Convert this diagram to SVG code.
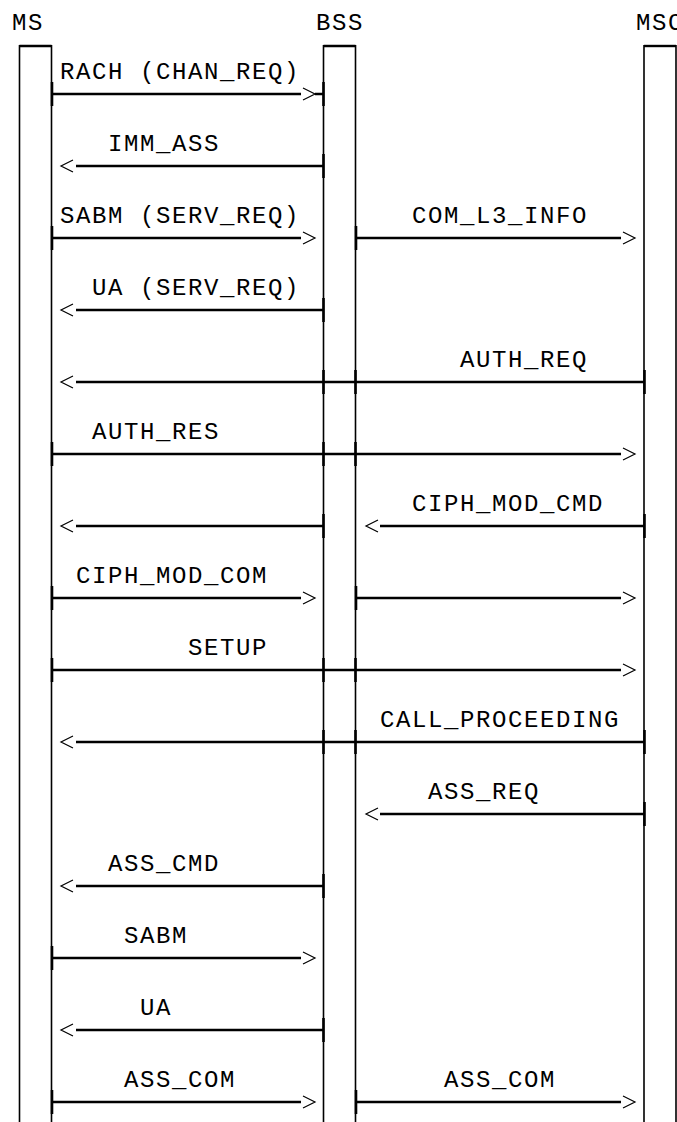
<svg xmlns="http://www.w3.org/2000/svg" xmlns:xlink="http://www.w3.org/1999/xlink" width="677" height="1122" viewBox="0 0 677 1122">
<style>
text{font-family:"Liberation Mono","DejaVu Sans Mono",monospace;font-size:24px;letter-spacing:1.6px;fill:#000}
.life{stroke:#000;stroke-width:1.6;fill:none}
.top{stroke:#000;stroke-width:2.4;fill:none}
.msg{stroke:#000;stroke-width:2.4;fill:none}
.head{stroke:#000;stroke-width:1.2;fill:none}
.tick{stroke:#000;stroke-width:2.6;fill:none}
</style>
<defs>
<path id="ar" class="head" d="M0,-6 L12,0 L0,6"/>
<path id="al" class="head" d="M12,-6 L0,0 L12,6"/>
<path id="tk" class="tick" d="M0,-12 V12"/>
</defs>
<rect width="677" height="1122" fill="#fff"/>
<g id="MS">
<text x="12" y="30">MS</text>
<path class="life" d="M19.5,45 V1122 M51.5,45 V1122"/>
<path class="top" d="M19.5,46 H51.5"/>
</g>
<g id="BSS">
<text x="316" y="30">BSS</text>
<path class="life" d="M323.5,45 V1122 M355.5,45 V1122"/>
<path class="top" d="M323.5,46 H355.5"/>
</g>
<g id="MSC">
<text x="636" y="30">MSC</text>
<path class="life" d="M644,45 V1122 M676,45 V1122"/>
<path class="top" d="M644,46 H676"/>
</g>
<g id="connectors">
<!-- 1 RACH -->
<g id="m1"><text x="60" y="79">RACH (CHAN_REQ)</text>
<path class="msg" d="M52,94 H301 M315,94 H323"/><use xlink:href="#ar" x="303" y="94"/>
<use xlink:href="#tk" x="52" y="94"/><use xlink:href="#tk" x="323.5" y="94"/></g>
<!-- 2 IMM_ASS -->
<g id="m2"><text x="108" y="151">IMM_ASS</text>
<path class="msg" d="M76,166 H323.5"/><use xlink:href="#al" x="61" y="166"/>
<use xlink:href="#tk" x="323.5" y="166"/></g>
<!-- 3 SABM / COM_L3_INFO -->
<g id="m3"><text x="60" y="223">SABM (SERV_REQ)</text>
<path class="msg" d="M52,238 H301"/><use xlink:href="#ar" x="303" y="238"/>
<use xlink:href="#tk" x="52" y="238"/></g>
<g id="m4"><text x="412" y="223">COM_L3_INFO</text>
<path class="msg" d="M356,238 H621"/><use xlink:href="#ar" x="623" y="238"/>
<use xlink:href="#tk" x="356" y="238"/></g>
<!-- UA (SERV_REQ) -->
<g id="m5"><text x="92" y="295">UA (SERV_REQ)</text>
<path class="msg" d="M76,310 H323.5"/><use xlink:href="#al" x="61" y="310"/>
<use xlink:href="#tk" x="323.5" y="310"/></g>
<!-- AUTH_REQ -->
<g id="m6"><text x="460" y="367">AUTH_REQ</text>
<path class="msg" d="M76,382 H644"/><use xlink:href="#al" x="61" y="382"/>
<use xlink:href="#tk" x="644.5" y="382"/><use xlink:href="#tk" x="323.5" y="382"/><use xlink:href="#tk" x="355.5" y="382"/></g>
<!-- AUTH_RES -->
<g id="m7"><text x="92" y="439">AUTH_RES</text>
<path class="msg" d="M52,454 H621"/><use xlink:href="#ar" x="623" y="454"/>
<use xlink:href="#tk" x="52" y="454"/><use xlink:href="#tk" x="323.5" y="454"/><use xlink:href="#tk" x="355.5" y="454"/></g>
<!-- BSS->MS, CIPH_MOD_CMD -->
<g id="m8"><path class="msg" d="M76,526 H323.5"/><use xlink:href="#al" x="61" y="526"/>
<use xlink:href="#tk" x="323.5" y="526"/></g>
<g id="m9"><text x="412" y="511">CIPH_MOD_CMD</text>
<path class="msg" d="M380,526 H644"/><use xlink:href="#al" x="366" y="526"/>
<use xlink:href="#tk" x="644.5" y="526"/></g>
<!-- CIPH_MOD_COM -->
<g id="m10"><text x="76" y="583">CIPH_MOD_COM</text>
<path class="msg" d="M52,598 H301"/><use xlink:href="#ar" x="303" y="598"/>
<use xlink:href="#tk" x="52" y="598"/></g>
<g id="m11"><path class="msg" d="M356,598 H621"/><use xlink:href="#ar" x="623" y="598"/>
<use xlink:href="#tk" x="356" y="598"/></g>
<!-- SETUP -->
<g id="m12"><text x="188" y="655">SETUP</text>
<path class="msg" d="M52,670 H621"/><use xlink:href="#ar" x="623" y="670"/>
<use xlink:href="#tk" x="52" y="670"/><use xlink:href="#tk" x="323.5" y="670"/><use xlink:href="#tk" x="355.5" y="670"/></g>
<!-- CALL_PROCEEDING -->
<g id="m13"><text x="380" y="727">CALL_PROCEEDING</text>
<path class="msg" d="M76,742 H644"/><use xlink:href="#al" x="61" y="742"/>
<use xlink:href="#tk" x="644.5" y="742"/><use xlink:href="#tk" x="323.5" y="742"/><use xlink:href="#tk" x="355.5" y="742"/></g>
<!-- ASS_REQ -->
<g id="m14"><text x="428" y="799">ASS_REQ</text>
<path class="msg" d="M380,814 H644"/><use xlink:href="#al" x="366" y="814"/>
<use xlink:href="#tk" x="644.5" y="814"/></g>
<!-- ASS_CMD -->
<g id="m15"><text x="108" y="871">ASS_CMD</text>
<path class="msg" d="M76,886 H323.5"/><use xlink:href="#al" x="61" y="886"/>
<use xlink:href="#tk" x="323.5" y="886"/></g>
<!-- SABM -->
<g id="m16"><text x="124" y="943">SABM</text>
<path class="msg" d="M52,958 H301"/><use xlink:href="#ar" x="303" y="958"/>
<use xlink:href="#tk" x="52" y="958"/></g>
<!-- UA -->
<g id="m17"><text x="140" y="1015">UA</text>
<path class="msg" d="M76,1030 H323.5"/><use xlink:href="#al" x="61" y="1030"/>
<use xlink:href="#tk" x="323.5" y="1030"/></g>
<!-- ASS_COM x2 -->
<g id="m18"><text x="124" y="1087">ASS_COM</text>
<path class="msg" d="M52,1102 H301"/><use xlink:href="#ar" x="303" y="1102"/>
<use xlink:href="#tk" x="52" y="1102"/></g>
<g id="m19"><text x="444" y="1087">ASS_COM</text>
<path class="msg" d="M356,1102 H621"/><use xlink:href="#ar" x="623" y="1102"/>
<use xlink:href="#tk" x="356" y="1102"/></g>
</g>
</svg>
